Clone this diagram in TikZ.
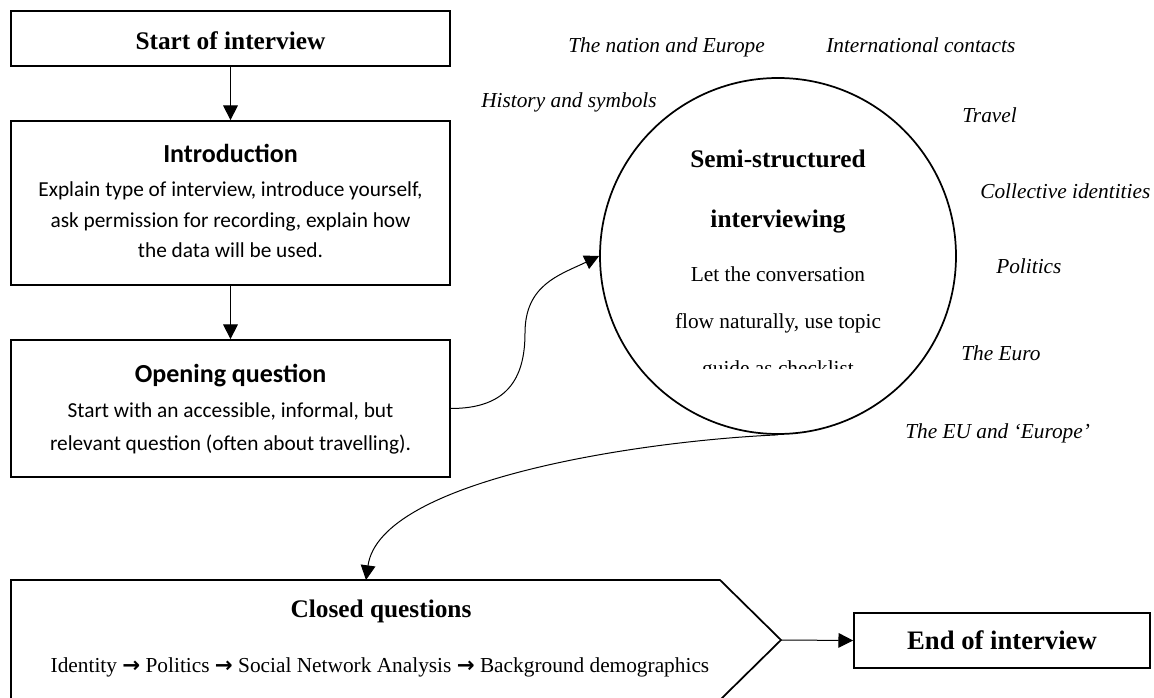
\documentclass[tikz,border=0pt]{standalone}
\usepackage{fontspec}
\setmainfont{Liberation Serif}
\newfontfamily\calfont{Carlito}
\newfontfamily\arrfont{DejaVu Sans}
\newcommand{\rarr}{{\arrfont\bfseries →}}
\usetikzlibrary{arrows.meta}
\begin{document}
\begin{tikzpicture}[x=0.75pt,y=-0.75pt,
  box/.style={draw, line width=1.3pt, inner sep=0pt},
  conn/.style={line width=0.75pt, -{Triangle[length=11pt,width=11pt]}},
  txt/.style={anchor=base, inner sep=0pt},
  lab/.style={anchor=base west, inner sep=0pt, font=\fontsize{16}{19}\selectfont\itshape},
  ttl/.style={txt, font=\fontsize{19}{22}\selectfont\bfseries},
  cal/.style={txt, font=\calfont\fontsize{16}{19}\selectfont},
  calt/.style={txt, font=\calfont\bfseries\fontsize{19.5}{22}\selectfont},
  body/.style={txt, font=\fontsize{16}{19}\selectfont}
]
\useasboundingbox (0,0) rectangle (1154,698);

% left column
\node[box, minimum width=329.25pt, minimum height=41.25pt] (start) at (230.5,38.5) {};
\node[ttl] (starttxt) at (230.5,50) {Start of interview};

\node[box, minimum width=329.25pt, minimum height=123pt] (intro) at (230.5,203) {};
\node[calt] (introttl) at (230.5,163) {Introduction};
\node[cal] (intro1) at (230.5,197) {Explain type of interview, introduce yourself,};
\node[cal] (intro2) at (230.5,228) {ask permission for recording, explain how};
\node[cal] (intro3) at (230.5,258) {the data will be used.};

\node[box, minimum width=329.25pt, minimum height=102.75pt] (open) at (230.5,408.5) {};
\node[calt] (openttl) at (230.5,383) {Opening question};
\node[cal] (open1) at (230.5,418) {Start with an accessible, informal, but};
\node[cal] (open2) at (230.5,451) {relevant question (often about travelling).};

% circle
\node[circle, draw, line width=1.3pt, minimum size=267pt, inner sep=0pt] (circ) at (778,256) {};
\node[ttl] (circt1) at (778,168) {Semi-structured};
\node[ttl] (circt2) at (778,228) {interviewing};
\node[body] (circb1) at (778,282) {Let the conversation};
\node[body] (circb2) at (778,329) {flow naturally, use topic};
\begin{scope}
  \clip (600,340) rectangle (960,369);
  \node[body] (circb3) at (778,376) {guide as checklist};
\end{scope}

% topic labels
\node[lab] (l1) at (568,53) {The nation and Europe};
\node[lab] (l2) at (826,53) {International contacts};
\node[lab] (l3) at (481,108) {History and symbols};
\node[lab] (l4) at (962,123) {Travel};
\node[lab] (l5) at (980,199) {Collective identities};
\node[lab] (l6) at (996,274) {Politics};
\node[lab] (l7) at (961,361) {The Euro};
\node[lab] (l8) at (905,439) {The EU and ‘Europe’};

% closed questions pentagon
\draw[line width=1.3pt] (11,580) -- (720,580) -- (781,640) -- (720,700) -- (11,700) -- cycle;
\coordinate (cqtop) at (366,580);
\coordinate (cqtip) at (781,640);
\node[ttl] (cqttl) at (381,618) {Closed questions};
\node[body] (cqbody) at (380,672) {Identity \rarr{} Politics \rarr{} Social Network Analysis \rarr{} Background demographics};

% end box
\node[box, minimum width=222pt, minimum height=41.25pt] (endb) at (1002,640.5) {};
\node[txt, font=\fontsize{20}{23}\selectfont\bfseries] (endtxt) at (1002,649) {End of interview};

% connectors
\coordinate (bend1) at (525,333);
\draw[conn] (start.south) -- (intro.north);
\draw[conn] (intro.south) -- (open.north);
\draw[conn] (open.east) .. controls +(55,0) and +(0,47) .. (bend1)
                        .. controls +(0,-48) and +(-40,19) .. (circ.west);
\draw[conn] (circ.south) .. controls +(-138,6) and +(14,-100) .. (cqtop);
\draw[conn] (cqtip) -- (endb.west);
\end{tikzpicture}
\end{document}
